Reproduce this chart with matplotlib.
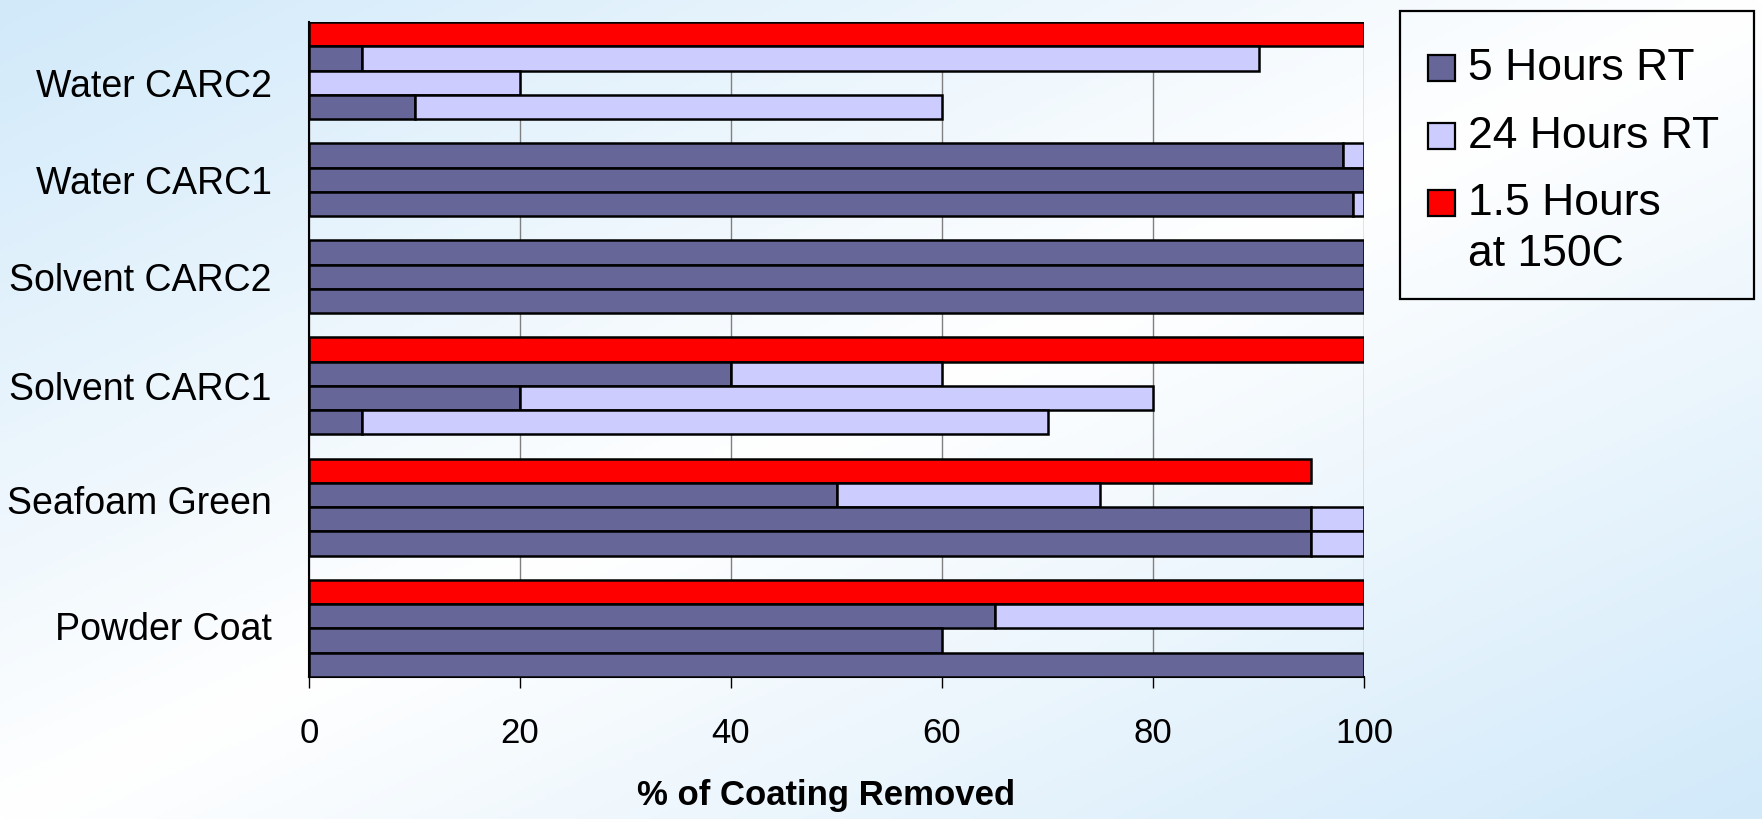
import numpy as np
import matplotlib.pyplot as plt
from matplotlib.patches import Rectangle

categories = ["Water CARC2", "Water CARC1", "Solvent CARC2",
              "Solvent CARC1", "Seafoam Green", "Powder Coat"]
# 1.5 Hours at 150C (None = not tested)
red_vals = [100, None, None, 100, 95, 100]
# 5 Hours RT and the extra removal after 24 Hours RT (stacked)
dark_vals = [[5, 0, 10], [98, 100, 99], [100, 100, 100],
             [40, 20, 5], [50, 95, 95], [65, 60, 100]]
light_vals = [[85, 20, 50], [2, 0, 1], [0, 0, 0],
              [20, 60, 65], [25, 5, 5], [35, 0, 0]]
legend_labels = ["5 Hours RT", "24 Hours RT", "1.5 Hours\nat 150C"]
xticks = [0, 20, 40, 60, 80, 100]

# where the category names sit (in bar-row units, as in the original)
label_pos = [2.0, 6.0, 10.0, 14.5, 19.2, 24.4]

dark = "#666699"
light = "#CCCCFF"
red = "#FF0000"

plt.rcParams['font.family'] = ['Liberation Sans', 'DejaVu Sans']

W, H = 1762, 819
fig = plt.figure(figsize=(W / 100, H / 100), dpi=100)

# diagonal blue-white-blue background
bg = fig.add_axes([0, 0, 1, 1], zorder=-10)
bg.axis('off')
xx, yy = np.meshgrid(np.linspace(0, 1, 400), np.linspace(0, 1, 200))
d = np.abs(xx + yy - 1)
blue = np.array([0.82, 0.915, 0.98])
white = np.array([1.0, 1.0, 1.0])
img = white * (1 - d[..., None]) + blue * d[..., None]
bg.imshow(img, extent=[0, 1, 0, 1], aspect='auto', origin='upper')
bg.set_xlim(0, 1)
bg.set_ylim(0, 1)

ax = fig.add_axes([309 / W, 1 - 677 / H, (1364 - 309) / W, (677 - 22) / H])
ax.set_facecolor('none')

kw = dict(height=1.0, edgecolor='black', linewidth=1.8, zorder=3)
slot = 0
for i, cat in enumerate(categories):
    if red_vals[i] is not None:
        ax.barh(slot, red_vals[i], color=red, **kw)
        slot += 1
    for dv, lv in zip(dark_vals[i], light_vals[i]):
        if dv > 0:
            ax.barh(slot, dv, color=dark, **kw)
        if lv > 0:
            ax.barh(slot, lv, left=dv, color=light, **kw)
        slot += 1
    slot += 1  # gap row
nslots = slot - 1

ax.set_ylim(nslots - 0.5, -0.5)
ax.set_xlim(0, 100)
ax.set_xticks(xticks)
ax.set_xticklabels([str(v) for v in xticks], fontsize=25)
ax.set_yticks(label_pos)
ax.set_yticklabels(categories, fontsize=27)
ax.tick_params(axis='x', direction='out', length=8, width=1, color='black', pad=21)
ax.tick_params(axis='y', length=0, pad=27)
ax.xaxis.grid(True, color='#808080', linewidth=1)
ax.set_axisbelow(True)
for s in ['top', 'right']:
    ax.spines[s].set_visible(False)
ax.spines['left'].set_linewidth(1.5)
ax.spines['bottom'].set_linewidth(1.5)
ax.set_xlabel("% of Coating Removed", fontsize=25, fontweight='bold',
              labelpad=21, x=0.49)

# legend box drawn by hand
fig.add_artist(Rectangle((1400 / W, 1 - 299 / H), 354 / W, 288 / H,
                         transform=fig.transFigure, facecolor='none',
                         edgecolor='black', linewidth=1.6))
handle_y = [68, 136, 203]
for lab, col, hy in zip(legend_labels, [dark, light, red], handle_y):
    fig.add_artist(Rectangle((1428 / W, 1 - (hy + 13) / H), 27 / W, 26 / H,
                             transform=fig.transFigure, facecolor=col,
                             edgecolor='black', linewidth=1.6))
    fig.text(1468 / W, 1 - (hy - 20) / H, lab, fontsize=32, va='top',
             ha='left', linespacing=1.3)

fig.savefig("out.png", dpi=100)
